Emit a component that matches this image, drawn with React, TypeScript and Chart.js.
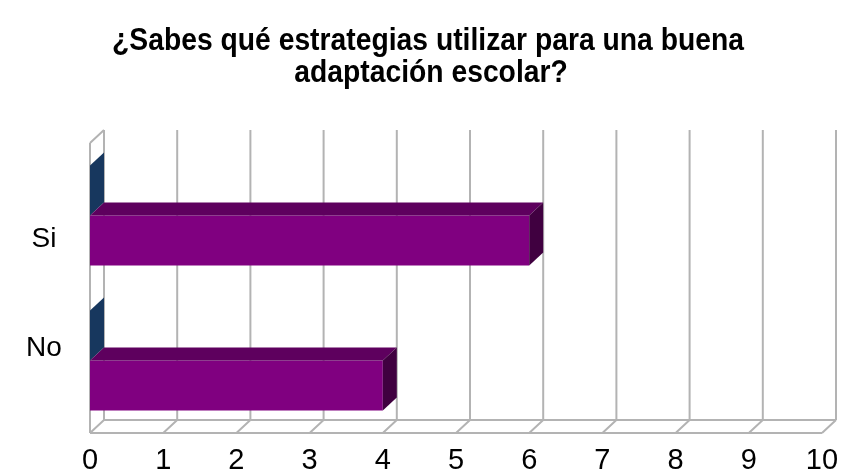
import React, { useEffect, useRef } from "react";
import { Chart, registerables } from "chart.js";

Chart.register(...registerables);

const categories = ["Si", "No"];
const seriesNavy = [0, 0];
const seriesPurple = [6, 4];
const xTickValues = [0, 1, 2, 3, 4, 5, 6, 7, 8, 9, 10];
const titleLines = ["¿Sabes qué estrategias utilizar para una buena", "adaptación escolar?"];

const DX = 14;
const DY = -13;
const GRID = "#b3b3b3";
const FONT = "'Liberation Sans', Arial, sans-serif";
const LABEL_SQUEEZE = 0.75;
const LABEL_SHIFT = 6;

const faceColors = [
  { top: "#12304f", side: "#17375E" },
  { top: "#5E005E", side: "#400040" },
];

const threeD = {
  id: "threeD",
  beforeDraw(chart: any) {
    const ctx = chart.ctx;
    ctx.save();
    ctx.fillStyle = "#000";
    ctx.font = `bold 31px ${FONT}`;
    ctx.textAlign = "center";
    ctx.textBaseline = "middle";
    const w = ctx.measureText(titleLines[0]).width;
    const sx = 632 / w;
    const draw = (t: string, cx: number, cy: number) => {
      ctx.save();
      ctx.translate(cx, cy);
      ctx.scale(sx, 1);
      ctx.fillText(t, 0, 0);
      ctx.restore();
    };
    draw(titleLines[0], 428, 41);
    draw(titleLines[1], 431, 73);
    ctx.restore();
  },
  beforeDatasetsDraw(chart: any) {
    const { ctx, chartArea } = chart;
    const { left, right, top, bottom } = chartArea;
    const x = chart.scales.x;
    ctx.save();
    ctx.strokeStyle = GRID;
    ctx.lineWidth = 2;
    ctx.beginPath();
    xTickValues.forEach((v) => {
      const px = x.getPixelForValue(v);
      ctx.moveTo(px + DX, top + DY);
      ctx.lineTo(px + DX, bottom + DY);
      ctx.moveTo(px, bottom);
      ctx.lineTo(px + DX, bottom + DY);
    });
    ctx.moveTo(left, bottom);
    ctx.lineTo(right, bottom);
    ctx.moveTo(left + DX, bottom + DY);
    ctx.lineTo(right + DX, bottom + DY);
    ctx.moveTo(left, top);
    ctx.lineTo(left, bottom);
    ctx.moveTo(left, top);
    ctx.lineTo(left + DX, top + DY);
    ctx.stroke();
    ctx.restore();
  },
  afterDatasetsDraw(chart: any) {
    const ctx = chart.ctx;
    ctx.save();
    chart.data.datasets.forEach((_ds: any, i: number) => {
      const meta = chart.getDatasetMeta(i);
      const col = faceColors[i];
      meta.data.forEach((el: any) => {
        const p = el.getProps(["x", "y", "base", "height"], true);
        const t = p.y - p.height / 2;
        const b = p.y + p.height / 2;
        const xs = Math.min(p.x, p.base);
        const xe = Math.max(p.x, p.base);
        if (xe - xs > 0.5) {
          ctx.fillStyle = col.top;
          ctx.beginPath();
          ctx.moveTo(xs, t);
          ctx.lineTo(xe, t);
          ctx.lineTo(xe + DX, t + DY);
          ctx.lineTo(xs + DX, t + DY);
          ctx.closePath();
          ctx.fill();
        }
        ctx.fillStyle = col.side;
        ctx.beginPath();
        ctx.moveTo(xe, t);
        ctx.lineTo(xe, b);
        ctx.lineTo(xe + DX, b + DY);
        ctx.lineTo(xe + DX, t + DY);
        ctx.closePath();
        ctx.fill();
      });
    });
    ctx.restore();
  },
  afterDraw(chart: any) {
    const { ctx, chartArea } = chart;
    const y = chart.scales.y;
    const mid = (chartArea.top + chartArea.bottom) / 2;
    ctx.save();
    ctx.fillStyle = "#000";
    ctx.font = `28px ${FONT}`;
    ctx.textAlign = "center";
    ctx.textBaseline = "middle";
    categories.forEach((c, i) => {
      const py = y.getPixelForValue(i);
      const ly = mid + (py - mid) * LABEL_SQUEEZE + LABEL_SHIFT;
      ctx.fillText(c, 44, ly);
    });
    ctx.restore();
  },
};

export default function App() {
  const ref = useRef<HTMLCanvasElement>(null);
  useEffect(() => {
    if (!ref.current) return;
    const chart = new Chart(ref.current, {
      type: "bar",
      data: {
        labels: categories,
        datasets: [
          { data: seriesNavy, backgroundColor: "#17375E", borderWidth: 0 },
          { data: seriesPurple, backgroundColor: "#800080", borderWidth: 0 },
        ],
      },
      options: {
        indexAxis: "y",
        responsive: false,
        animation: false,
        datasets: { bar: { categoryPercentage: 0.69, barPercentage: 1 } },
        layout: { padding: { top: 143, right: 20, left: 0, bottom: 0 } },
        plugins: { legend: { display: false }, tooltip: { enabled: false }, title: { display: false } },
        scales: {
          x: {
            min: 0,
            max: 10,
            grid: { display: false, drawTicks: false },
            border: { display: false },
            afterFit: (s: any) => { s.height = 39; s.paddingLeft = 0; s.paddingRight = 0; },
            afterBuildTicks: (s: any) => { s.ticks = xTickValues.map((v) => ({ value: v })); },
            ticks: { color: "#000", padding: 11, maxRotation: 0, font: { family: FONT, size: 29 } },
          },
          y: {
            grid: { display: false, drawTicks: false },
            border: { display: false },
            afterFit: (s: any) => { s.width = 90; },
            ticks: { display: false },
          },
        },
      },
      plugins: [threeD],
    });
    return () => chart.destroy();
  }, []);
  return (
    <div style={{ position: "fixed", left: 0, top: 0, width: 842, height: 472, background: "#fff" }}>
      <canvas ref={ref} width={842} height={472} />
    </div>
  );
}
